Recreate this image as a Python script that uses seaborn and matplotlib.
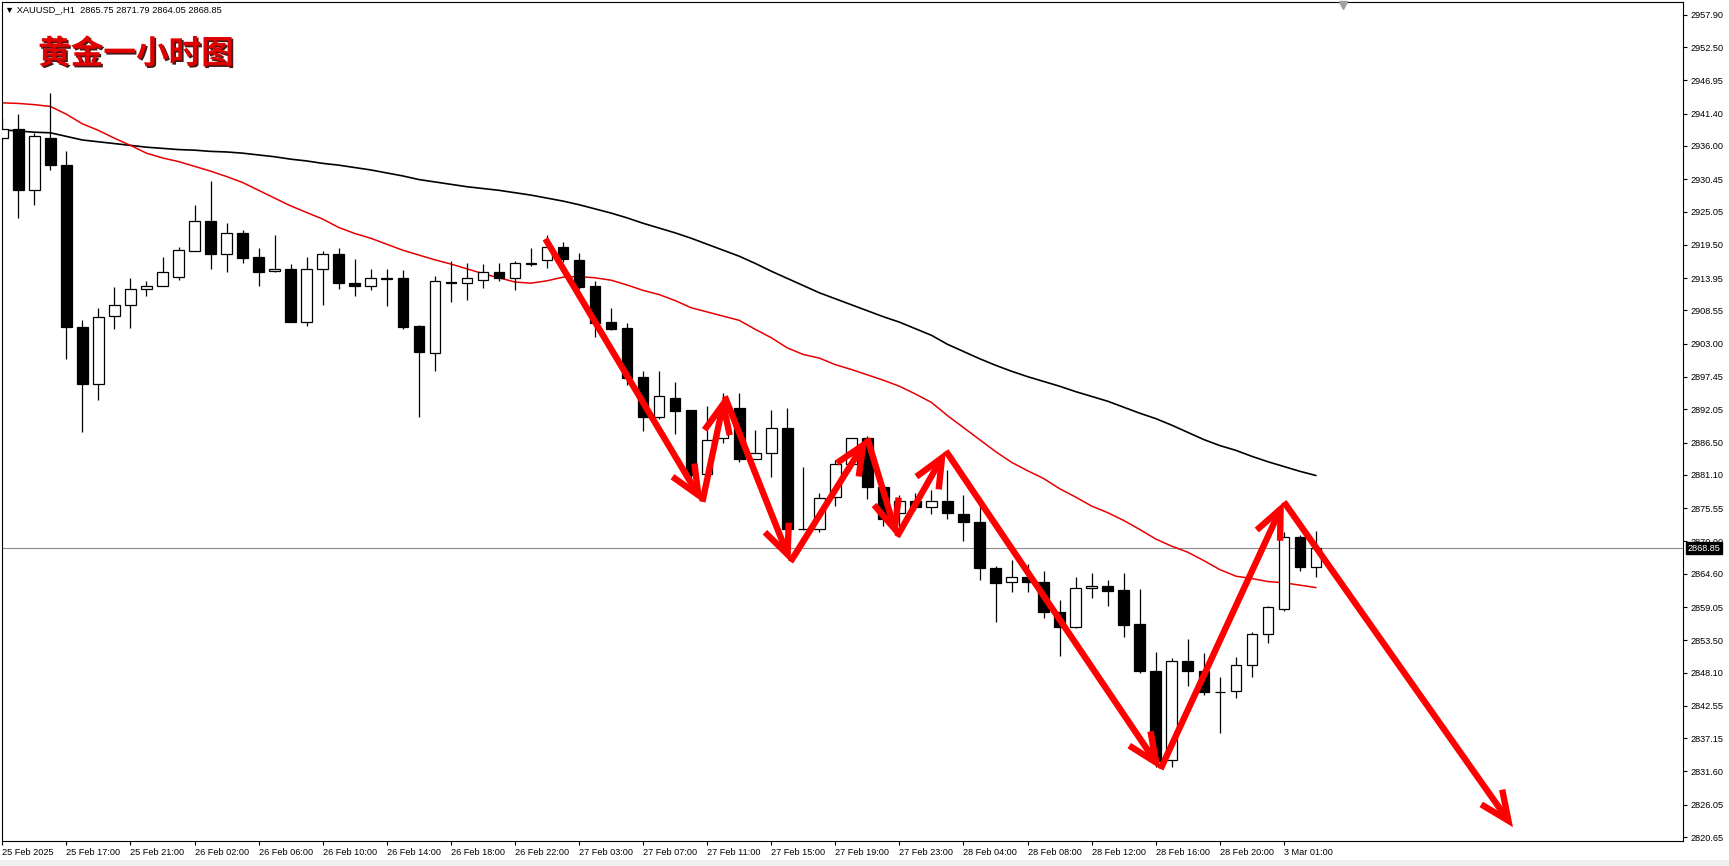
import numpy as np
import pandas as pd
import matplotlib
matplotlib.use("Agg")
import matplotlib.pyplot as plt
import matplotlib.patheffects as pe
import matplotlib.transforms as mtransforms
from matplotlib.patches import Rectangle
import seaborn as sns

# ---------------- data ----------------
opens = [2937.4, 2938.8, 2928.7, 2937.4, 2932.9, 2905.8, 2896.3, 2907.7, 2909.5, 2912.2,
         2912.7, 2914.2, 2918.5, 2923.5, 2918.0, 2921.4, 2917.4, 2915.1, 2915.4, 2906.6,
         2915.5, 2918.0, 2913.2, 2912.7, 2913.85, 2913.9, 2905.9, 2901.5, 2913.35, 2913.2,
         2913.7, 2914.9, 2913.9, 2916.3, 2916.9, 2919.2, 2917.0, 2912.6, 2906.6, 2905.6,
         2897.4, 2890.8, 2894.0, 2891.9, 2881.2, 2887.2, 2892.2, 2883.8, 2884.7, 2888.9,
         2872.0, 2872.0, 2877.35, 2883.0, 2887.2, 2879.0, 2874.7, 2876.8, 2875.7, 2876.8,
         2874.5, 2873.2, 2865.5, 2863.2, 2864.0, 2863.3, 2858.3, 2855.7, 2862.2, 2862.6,
         2861.9, 2856.2, 2848.4, 2833.6, 2850.1, 2848.3, 2844.9, 2845.0, 2849.4, 2854.55,
         2858.8, 2870.7, 2865.75]
highs = [2940.7, 2941.4, 2938.2, 2944.9, 2935.1, 2906.9, 2908.9, 2912.4, 2913.9, 2913.4,
         2917.4, 2919.1, 2926.1, 2930.1, 2923.2, 2921.9, 2918.9, 2921.1, 2916.3, 2917.5,
         2918.4, 2919.0, 2917.1, 2915.5, 2915.5, 2915.3, 2906.1, 2914.3, 2916.8, 2916.4,
         2916.3, 2916.4, 2916.8, 2918.9, 2921.1, 2920.0, 2918.2, 2913.5, 2909.0, 2906.4,
         2898.4, 2898.4, 2896.6, 2892.0, 2892.6, 2894.7, 2894.7, 2888.6, 2891.9, 2892.2,
         2882.5, 2878.0, 2883.6, 2887.3, 2887.6, 2879.1, 2877.7, 2878.0, 2878.6, 2881.9,
         2877.7, 2875.9, 2865.9, 2866.9, 2866.3, 2865.0, 2860.2, 2864.1, 2864.7, 2863.6,
         2864.7, 2862.1, 2851.6, 2850.5, 2853.7, 2851.3, 2847.4, 2850.7, 2854.8, 2859.2,
         2871.6, 2871.1, 2871.79]
lows = [2937.0, 2924.0, 2926.2, 2932.0, 2900.5, 2888.2, 2893.6, 2905.5, 2905.6, 2910.9,
        2912.6, 2913.6, 2918.4, 2915.4, 2915.0, 2916.5, 2912.6, 2914.9, 2906.6, 2905.9,
        2909.4, 2912.2, 2911.0, 2911.9, 2909.3, 2905.4, 2890.8, 2898.5, 2909.9, 2910.3,
        2912.3, 2913.4, 2912.0, 2916.0, 2915.7, 2916.6, 2912.2, 2904.2, 2905.3, 2896.1,
        2888.5, 2890.5, 2887.9, 2880.5, 2880.8, 2886.4, 2883.3, 2883.7, 2880.8, 2870.2,
        2871.9, 2871.6, 2875.9, 2882.9, 2877.0, 2872.5, 2872.5, 2875.3, 2874.6, 2873.7,
        2870.1, 2863.5, 2856.6, 2861.6, 2861.6, 2857.2, 2850.8, 2855.5, 2860.5, 2859.3,
        2854.1, 2848.0, 2832.4, 2832.3, 2845.9, 2844.4, 2838.0, 2843.8, 2847.4, 2853.1,
        2858.45, 2865.0, 2864.05]
closes = [2938.8, 2928.7, 2937.6, 2932.8, 2905.8, 2896.3, 2907.5, 2909.5, 2912.2, 2912.7,
          2915.0, 2918.7, 2923.4, 2918.0, 2921.4, 2917.3, 2915.0, 2915.4, 2906.6, 2915.5,
          2918.0, 2913.1, 2912.6, 2913.9, 2913.95, 2905.8, 2901.6, 2913.4, 2913.2, 2913.9,
          2914.9, 2913.9, 2916.4, 2916.45, 2919.2, 2917.1, 2912.4, 2906.5, 2905.5, 2897.2,
          2890.8, 2894.3, 2891.8, 2881.1, 2887.0, 2891.0, 2883.8, 2884.7, 2888.9, 2872.0,
          2872.1, 2877.2, 2883.0, 2887.2, 2879.0, 2873.7, 2876.8, 2875.7, 2876.8, 2874.7,
          2873.2, 2865.5, 2863.1, 2864.0, 2863.3, 2858.3, 2855.7, 2862.2, 2862.6, 2861.8,
          2856.1, 2848.3, 2833.3, 2850.1, 2848.3, 2844.8, 2844.95, 2849.3, 2854.5, 2859.0,
          2870.7, 2865.7, 2868.85]

ma_red = [2943.2, 2943.1, 2942.9, 2942.6, 2941.3, 2939.7, 2938.6, 2937.3, 2936.1, 2934.8,
          2934.0, 2933.4, 2932.6, 2931.8, 2930.9, 2929.9, 2928.6, 2927.3, 2926.0, 2924.9,
          2923.8, 2922.4, 2921.4, 2920.6, 2919.6, 2918.6, 2917.8, 2917.0, 2916.3, 2915.5,
          2914.7, 2914.0, 2913.3, 2913.1, 2913.5, 2914.1, 2914.2, 2914.0, 2913.6, 2912.8,
          2911.9, 2911.2, 2910.2, 2909.0, 2908.3, 2907.6, 2906.9, 2905.4, 2904.0, 2902.3,
          2901.2, 2900.6, 2899.5, 2898.7, 2897.8, 2896.9, 2895.9, 2894.6, 2893.2, 2891.0,
          2889.0, 2887.0, 2885.0, 2883.2, 2881.8, 2880.5, 2878.8, 2877.4, 2875.9, 2874.8,
          2873.5, 2872.0, 2870.4, 2869.2, 2868.2, 2866.8, 2865.3, 2864.2, 2863.8, 2863.3,
          2863.1, 2862.7, 2862.3]
ma_black = [2938.7, 2938.5, 2938.3, 2938.2, 2937.6, 2937.0, 2936.7, 2936.4, 2936.1, 2935.8,
            2935.6, 2935.4, 2935.3, 2935.1, 2935.0, 2934.8, 2934.5, 2934.2, 2933.8, 2933.5,
            2933.1, 2932.8, 2932.4, 2932.0, 2931.5, 2931.0, 2930.4, 2930.0, 2929.6, 2929.2,
            2928.9, 2928.6, 2928.2, 2927.8, 2927.3, 2926.8, 2926.2, 2925.5, 2924.8, 2924.0,
            2923.1, 2922.3, 2921.5, 2920.6, 2919.6, 2918.6, 2917.6, 2916.4, 2915.1, 2913.9,
            2912.7, 2911.5, 2910.5, 2909.5, 2908.5, 2907.5, 2906.6, 2905.5, 2904.4, 2902.9,
            2901.7, 2900.5, 2899.4, 2898.4, 2897.5, 2896.7, 2895.9, 2895.0, 2894.2, 2893.4,
            2892.4, 2891.4, 2890.5, 2889.4, 2888.2, 2887.0, 2886.0, 2885.2, 2884.2, 2883.3,
            2882.5, 2881.7, 2881.0]

xtick_labels = ["25 Feb 2025", "25 Feb 17:00", "25 Feb 21:00", "26 Feb 02:00", "26 Feb 06:00",
                "26 Feb 10:00", "26 Feb 14:00", "26 Feb 18:00", "26 Feb 22:00", "27 Feb 03:00",
                "27 Feb 07:00", "27 Feb 11:00", "27 Feb 15:00", "27 Feb 19:00", "27 Feb 23:00",
                "28 Feb 04:00", "28 Feb 08:00", "28 Feb 12:00", "28 Feb 16:00", "28 Feb 20:00",
                "3 Mar 01:00"]
ytick_values = [2957.90, 2952.50, 2946.95, 2941.40, 2936.00, 2930.45, 2925.05, 2919.50,
                2913.95, 2908.55, 2903.00, 2897.45, 2892.05, 2886.50, 2881.10, 2875.55,
                2870.00, 2864.60, 2859.05, 2853.50, 2848.10, 2842.55, 2837.15, 2831.60,
                2826.05, 2820.65]
last_price = 2868.85

# annotation arrows (path vertices, arrowhead at each segment end)
arrow_x = [33.9, 43.7, 45.1, 49.2, 54.0, 55.85, 58.9, 72.3, 80.0, 94.3]
arrow_y = [2920.5, 2876.6, 2894.2, 2866.6, 2887.2, 2870.8, 2885.1, 2832.0, 2876.6, 2822.3]

title_text = "黄金一小时图"
info_text = "XAUUSD_,H1  2865.75 2871.79 2864.05 2868.85"

# ---------------- figure ----------------
sns.set_theme(style="white")
plt.rcParams["font.family"] = ["Liberation Sans", "DejaVu Sans"]

W, H = 1729, 866
fig = plt.figure(figsize=(W / 100, H / 100), dpi=100, facecolor="white")
x_left, x_right, y_top, y_bot = 1.7, 1683.0, 1.7, 840.7
ax = fig.add_axes([x_left / W, 1 - y_bot / H, (x_right - x_left) / W, (y_bot - y_top) / H])
ax.set_facecolor("white")

df = pd.DataFrame({"bar": np.arange(len(opens)), "open": opens, "high": highs,
                   "low": lows, "close": closes, "ma_red": ma_red, "ma_black": ma_black})
df["up"] = df["close"] >= df["open"]
df["body_bot"] = df[["open", "close"]].min(axis=1)
df["body_h"] = (df["close"] - df["open"]).abs()

# price line
ax.axhline(last_price, color="#8c8c8c", lw=0.8, zorder=1)

# moving averages
sns.lineplot(data=df, x="bar", y="ma_black", color="black", lw=1.2, ax=ax, zorder=2, legend=False)
sns.lineplot(data=df, x="bar", y="ma_red", color="#e60000", lw=1.1, ax=ax, zorder=2, legend=False)

# candles
ax.vlines(df["bar"], df["low"], df["high"], color="black", lw=0.9, zorder=3)
ax.bar(df["bar"], df["body_h"], bottom=df["body_bot"], width=0.66,
       color=np.where(df["up"], "white", "black"), edgecolor="black", linewidth=0.9, zorder=4)

# arrows
for i in range(len(arrow_x) - 1):
    ax.annotate("", xy=(arrow_x[i + 1], arrow_y[i + 1]), xytext=(arrow_x[i], arrow_y[i]),
                arrowprops=dict(arrowstyle="->,head_length=0.95,head_width=0.42", color="#ff0000",
                                lw=4.6, shrinkA=0, shrinkB=0, mutation_scale=22,
                                joinstyle="miter", capstyle="butt"),
                annotation_clip=False, zorder=6)

# axes limits & ticks
ax.set_xlim((x_left - 2.3) / 16.02, (x_right - 2.3) / 16.02)
ax.set_ylim(2820.05, 2960.08)
ax.set_xlabel("")
ax.set_ylabel("")
ax.yaxis.tick_right()
ax.set_yticks(ytick_values)
ax.set_yticklabels([f"{v:.2f}" for v in ytick_values])
ax.set_xticks(np.arange(0, 4 * len(xtick_labels), 4))
ax.set_xticklabels(xtick_labels)
for lab in ax.get_xticklabels():
    lab.set_horizontalalignment("left")
ax.tick_params(axis="y", which="both", right=True, left=False, direction="out", length=3,
               width=0.8, pad=2.5, labelsize=6.6, colors="black")
ax.tick_params(axis="x", which="both", bottom=True, direction="out", length=3,
               width=0.8, pad=2, labelsize=6.6, colors="black")
for s in ax.spines.values():
    s.set_color("black")
    s.set_linewidth(0.8)
ax.grid(False)

# last price label
trans = mtransforms.blended_transform_factory(ax.transAxes, ax.transData)
ax.text(1.0025, last_price, f"{last_price:.2f}", transform=trans, ha="left", va="center",
        fontsize=6.6, color="white", zorder=10, clip_on=False,
        bbox=dict(boxstyle="square,pad=0.18", fc="black", ec="black"))

# chart-shift marker
trans2 = mtransforms.blended_transform_factory(ax.transData, ax.transAxes)
ax.plot([83.7], [0.996], marker="v", color="#a0a0a0", markersize=6, transform=trans2,
        clip_on=False, zorder=7)

# info text and title
fig.text(5 / W, 1 - 9.5 / H, "▼ " + info_text, ha="left", va="center", fontsize=6.7,
         color="black", family=["Liberation Sans", "DejaVu Sans"])
fig.text(38 / W, 1 - 54 / H, title_text, ha="left", va="center", fontsize=23.5,
         fontweight="bold", color="#e00000", family=["Noto Sans CJK SC", "DejaVu Sans"],
         path_effects=[pe.withSimplePatchShadow(offset=(1.2, -1.2), shadow_rgbFace="#300000",
                                                alpha=0.9)])

# bottom status strip
fig.patches.append(Rectangle((0, 0), 1, 6 / H, transform=fig.transFigure,
                             facecolor="#f0f0f0", edgecolor="none", zorder=0))

fig.savefig("out.png", dpi=100, facecolor="white")
